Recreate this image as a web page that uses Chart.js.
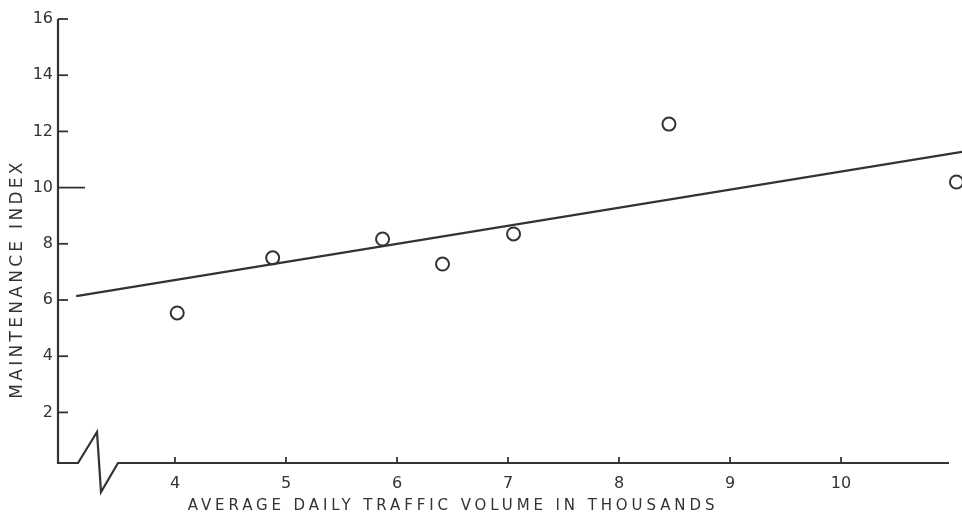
<!DOCTYPE html>
<html>
<head>
<meta charset="utf-8">
<script src="https://cdn.jsdelivr.net/npm/chart.js@4"></script>
<style>
  html, body { margin: 0; padding: 0; background: #ffffff; }
  #wrap { width: 962px; height: 515px; position: relative; }
</style>
</head>
<body>
<div id="wrap"><canvas id="c" width="962" height="515"></canvas></div>
<script>
// ---- Data ----
const trafficVolume = [4.02, 4.88, 5.87, 6.41, 7.05, 8.45, 11.04];   // thousands
const maintenanceIndex = [5.54, 7.50, 8.17, 7.28, 8.35, 12.26, 10.2];
const fitX = [3.11, 11.09];
const fitY = [6.14, 11.27];
const xTickValues = [4, 5, 6, 7, 8, 9, 10];
const yTickValues = [2, 4, 6, 8, 10, 12, 14, 16];
const xTitle = 'AVERAGE DAILY TRAFFIC VOLUME IN THOUSANDS';
const yTitle = 'MAINTENANCE INDEX';

const INK = '#333333';
const FONT = "'DejaVu Sans', 'Liberation Sans', sans-serif";

const axesPlugin = {
  id: 'handAxes',
  afterDraw(chart) {
    const ctx = chart.ctx;
    const xs = chart.scales.x, ys = chart.scales.y;
    const area = chart.chartArea;
    const left = area.left, base = area.bottom;
    ctx.save();
    ctx.strokeStyle = INK;
    ctx.lineWidth = 2.2;
    ctx.lineJoin = 'miter';
    // y axis
    ctx.beginPath();
    ctx.moveTo(left, ys.getPixelForValue(16));
    ctx.lineTo(left, base);
    // x axis with break
    ctx.lineTo(left + 20, base);
    ctx.lineTo(left + 39, base - 31);
    ctx.lineTo(left + 43, base + 29);
    ctx.lineTo(left + 60, base);
    ctx.lineTo(area.right - 13, base);
    ctx.stroke();
    // y ticks (inside)
    ctx.lineWidth = 1.8;
    yTickValues.forEach(v => {
      const py = ys.getPixelForValue(v);
      ctx.beginPath();
      ctx.moveTo(left, py);
      ctx.lineTo(left + (v === 10 ? 27 : 10), py);
      ctx.stroke();
    });
    // x ticks (inside, upward)
    xTickValues.forEach(v => {
      const px = xs.getPixelForValue(v);
      ctx.beginPath();
      ctx.moveTo(px, base);
      ctx.lineTo(px, base - 6);
      ctx.stroke();
    });
    // titles
    ctx.fillStyle = INK;
    ctx.textAlign = 'center';
    ctx.textBaseline = 'middle';
    ctx.font = '15px ' + FONT;
    try { ctx.letterSpacing = '3.9px'; } catch (e) {}
    ctx.fillText(xTitle, 453, 506);
    ctx.font = '17px ' + FONT;
    try { ctx.letterSpacing = '3.3px'; } catch (e) {}
    ctx.translate(18, 279);
    ctx.rotate(-Math.PI / 2);
    ctx.fillText(yTitle, 0, 0);
    ctx.restore();
  }
};

new Chart(document.getElementById('c'), {
  type: 'scatter',
  data: {
    datasets: [
      {
        label: 'Observed',
        data: trafficVolume.map((x, i) => ({ x, y: maintenanceIndex[i] })),
        pointStyle: 'circle',
        pointRadius: 6.5,
        pointBorderWidth: 2,
        pointBorderColor: INK,
        pointBackgroundColor: 'rgba(255,255,255,0)',
        showLine: false,
        clip: false
      },
      {
        label: 'Fit',
        type: 'line',
        data: fitX.map((x, i) => ({ x, y: fitY[i] })),
        borderColor: INK,
        borderWidth: 2.2,
        pointRadius: 0,
        fill: false,
        clip: false
      }
    ]
  },
  options: {
    responsive: false,
    animation: false,
    layout: { autoPadding: false, padding: { top: 19, right: 0, left: 0, bottom: 0 } },
    plugins: { legend: { display: false }, tooltip: { enabled: false } },
    scales: {
      x: {
        type: 'linear',
        min: 2.946,
        max: 11.09,
        afterBuildTicks: s => { s.ticks = xTickValues.map(v => ({ value: v })); },
        afterFit: s => { s.height = 52; },
        grid: { display: false, drawTicks: false },
        border: { display: false },
        ticks: { color: INK, font: { family: FONT, size: 16 }, padding: 11, maxRotation: 0, autoSkip: false }
      },
      y: {
        type: 'linear',
        min: 0.2,
        max: 16,
        afterBuildTicks: s => { s.ticks = yTickValues.map(v => ({ value: v })); },
        afterFit: s => { s.width = 58; },
        grid: { display: false, drawTicks: false },
        border: { display: false },
        ticks: { color: INK, font: { family: FONT, size: 16 }, padding: 5, autoSkip: false }
      }
    }
  },
  plugins: [axesPlugin]
});
</script>
</body>
</html>
